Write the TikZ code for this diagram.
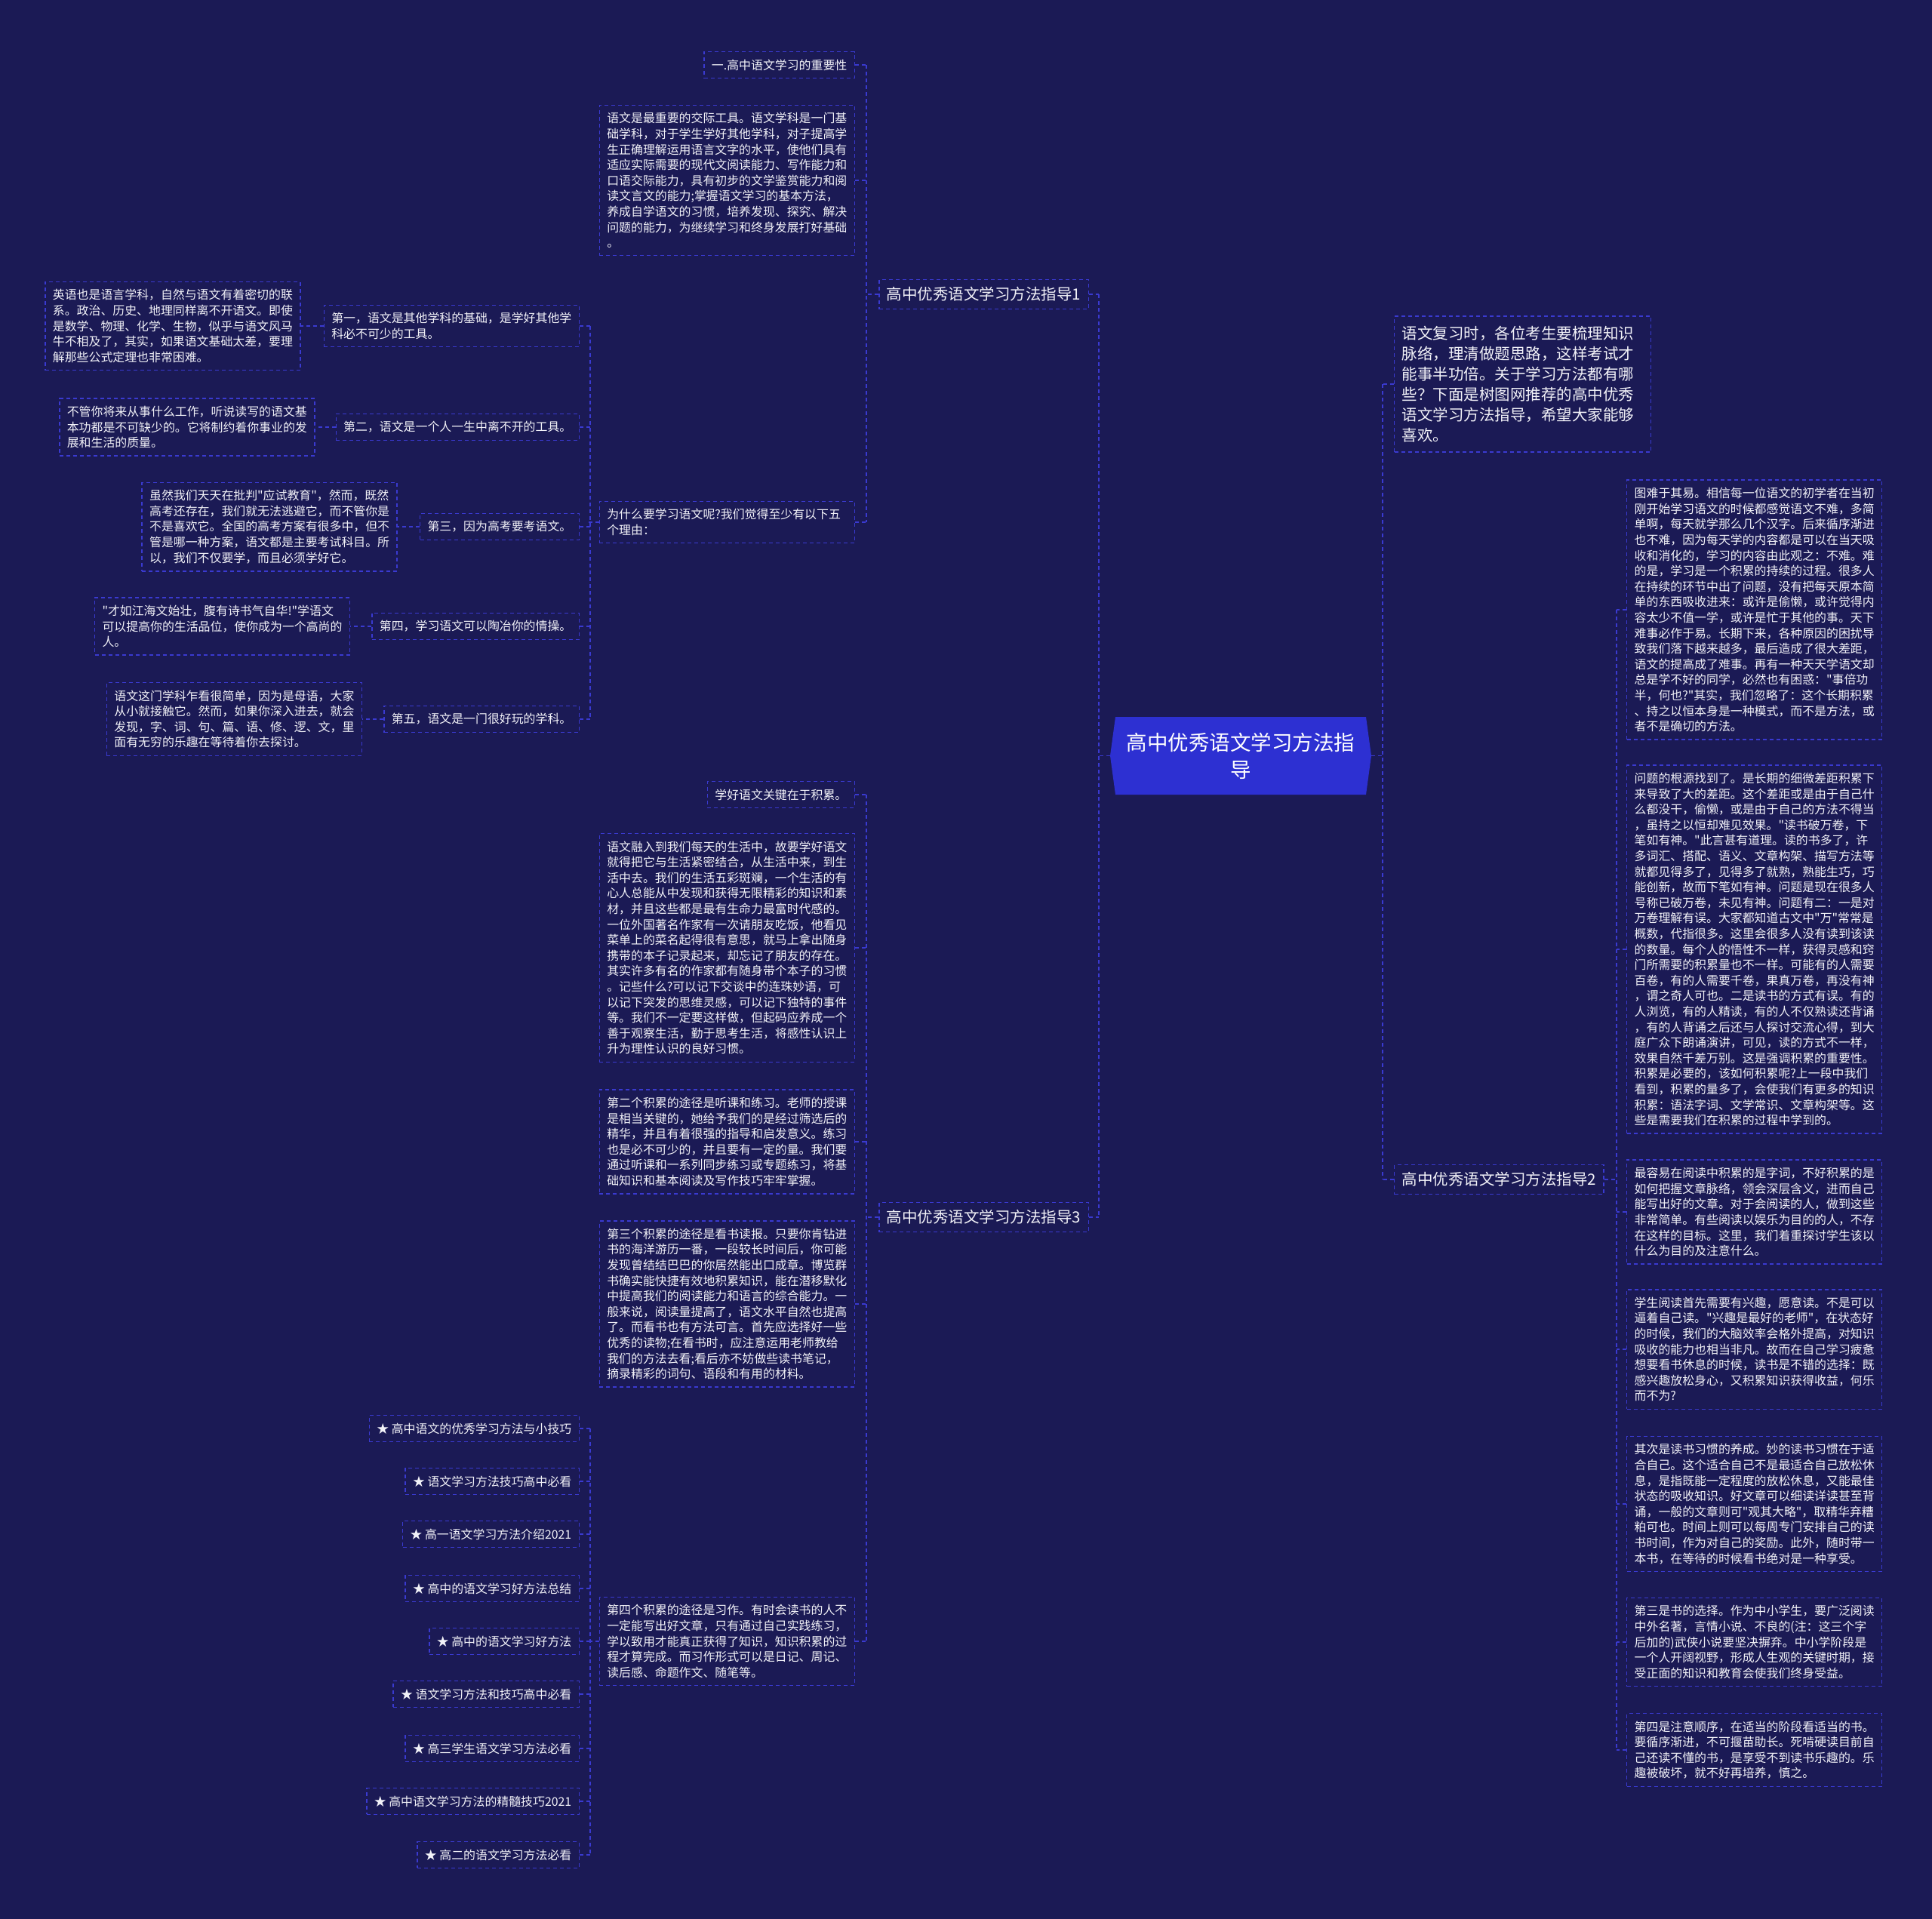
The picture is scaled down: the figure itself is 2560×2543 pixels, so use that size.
\documentclass[tikz,border=0pt]{standalone}
\usepackage{fontspec}
\newfontfamily\cjk{Noto Sans CJK SC}
\definecolor{bgc}{HTML}{1B1A55}
\definecolor{linec}{HTML}{3A3AD0}
\definecolor{txtc}{HTML}{F2F2F8}
\definecolor{ctrc}{HTML}{2D30D2}
\begin{document}
\begin{tikzpicture}[x=1pt,y=-1pt,
  conn/.style={draw=linec, line width=1.4pt, dash pattern=on 5pt off 4pt},
  box/.style={draw=linec, line width=1.4pt, dash pattern=on 5pt off 4pt, text=txtc, inner xsep=10pt, inner ysep=10pt},
  sbox/.style={box, font=\cjk\fontsize{15.9}{20.6}\selectfont, align=left},
  para/.style={sbox, text width=318pt},
  lbl/.style={box, font=\cjk\fontsize{20.5}{27}\selectfont}]
\fill[bgc] (0,0) rectangle (2560,2543);
\useasboundingbox (0,0) rectangle (2560,2543);
% center
\fill[ctrc] (1478,950) -- (1810,950) -- (1817,1001.5) -- (1810,1053) -- (1478,1053) -- (1471,1001.5) -- cycle;
\node[minimum width=346pt, minimum height=103pt, inner sep=0pt, align=center, text=white,
  font=\cjk\fontsize{27.5}{36}\selectfont] (ctr) at (1644,1001.5) {高中优秀语文学习方法指\\导};
% branches
\node[lbl, anchor=east] (b1) at (1443,390) {高中优秀语文学习方法指导1};
\node[lbl, anchor=east] (b3) at (1443,1613) {高中优秀语文学习方法指导3};
\node[lbl, anchor=west] (b2) at (1847,1563) {高中优秀语文学习方法指导2};
\node[box, anchor=west, text width=320pt, inner ysep=13pt, align=left,
  font=\cjk\fontsize{20.5}{27}\selectfont] (intro) at (1847,509) {语文复习时，各位考生要梳理知识\\脉络，理清做题思路，这样考试才\\能事半功倍。关于学习方法都有哪\\些？下面是树图网推荐的高中优秀\\语文学习方法指导，希望大家能够\\喜欢。};
% branch 1 children
\node[sbox, anchor=east] (n1) at (1133,86) {一.高中语文学习的重要性};
\node[para, anchor=east] (n2) at (1133,239) {语文是最重要的交际工具。语文学科是一门基\\础学科，对于学生学好其他学科，对子提高学\\生正确理解运用语言文字的水平，使他们具有\\适应实际需要的现代文阅读能力、写作能力和\\口语交际能力，具有初步的文学鉴赏能力和阅\\读文言文的能力;掌握语文学习的基本方法，\\养成自学语文的习惯，培养发现、探究、解决\\问题的能力，为继续学习和终身发展打好基础\\。};
\node[para, anchor=east] (n9) at (1133,692) {为什么要学习语文呢?我们觉得至少有以下五\\个理由：};
% reasons
\node[para, anchor=east] (r1) at (768,432) {第一，语文是其他学科的基础，是学好其他学\\科必不可少的工具。};
\node[sbox, anchor=east] (r2) at (768,566) {第二，语文是一个人一生中离不开的工具。};
\node[sbox, anchor=east] (r3) at (768,698) {第三，因为高考要考语文。};
\node[sbox, anchor=east] (r4) at (768,830) {第四，学习语文可以陶冶你的情操。};
\node[sbox, anchor=east] (r5) at (768,953) {第五，语文是一门很好玩的学科。};
\node[para, anchor=east] (e1) at ([xshift=-30pt]r1.west) {英语也是语言学科，自然与语文有着密切的联\\系。政治、历史、地理同样离不开语文。即使\\是数学、物理、化学、生物，似乎与语文风马\\牛不相及了，其实，如果语文基础太差，要理\\解那些公式定理也非常困难。};
\node[para, anchor=east] (e2) at ([xshift=-27pt]r2.west) {不管你将来从事什么工作，听说读写的语文基\\本功都是不可缺少的。它将制约着你事业的发\\展和生活的质量。};
\node[para, anchor=east] (e3) at ([xshift=-29pt]r3.west) {虽然我们天天在批判"应试教育"，然而，既然\\高考还存在，我们就无法逃避它，而不管你是\\不是喜欢它。全国的高考方案有很多中，但不\\管是哪一种方案，语文都是主要考试科目。所\\以，我们不仅要学，而且必须学好它。};
\node[para, anchor=east] (e4) at ([xshift=-28pt]r4.west) {"才如江海文始壮，腹有诗书气自华!"学语文\\可以提高你的生活品位，使你成为一个高尚的\\人。};
\node[para, anchor=east] (e5) at ([xshift=-28pt]r5.west) {语文这门学科乍看很简单，因为是母语，大家\\从小就接触它。然而，如果你深入进去，就会\\发现，字、词、句、篇、语、修、逻、文，里\\面有无穷的乐趣在等待着你去探讨。};
% branch 3 children
\node[sbox, anchor=east] (n14) at (1133,1053) {学好语文关键在于积累。};
\node[para, anchor=east] (n15) at (1133,1256) {语文融入到我们每天的生活中，故要学好语文\\就得把它与生活紧密结合，从生活中来，到生\\活中去。我们的生活五彩斑斓，一个生活的有\\心人总能从中发现和获得无限精彩的知识和素\\材，并且这些都是最有生命力最富时代感的。\\一位外国著名作家有一次请朋友吃饭，他看见\\菜单上的菜名起得很有意思，就马上拿出随身\\携带的本子记录起来，却忘记了朋友的存在。\\其实许多有名的作家都有随身带个本子的习惯\\。记些什么?可以记下交谈中的连珠妙语，可\\以记下突发的思维灵感，可以记下独特的事件\\等。我们不一定要这样做，但起码应养成一个\\善于观察生活，勤于思考生活，将感性认识上\\升为理性认识的良好习惯。};
\node[para, anchor=east] (n16) at (1133,1513) {第二个积累的途径是听课和练习。老师的授课\\是相当关键的，她给予我们的是经过筛选后的\\精华，并且有着很强的指导和启发意义。练习\\也是必不可少的，并且要有一定的量。我们要\\通过听课和一系列同步练习或专题练习，将基\\础知识和基本阅读及写作技巧牢牢掌握。};
\node[para, anchor=east] (n17) at (1133,1728) {第三个积累的途径是看书读报。只要你肯钻进\\书的海洋游历一番，一段较长时间后，你可能\\发现曾结结巴巴的你居然能出口成章。博览群\\书确实能快捷有效地积累知识，能在潜移默化\\中提高我们的阅读能力和语言的综合能力。一\\般来说，阅读量提高了，语文水平自然也提高\\了。而看书也有方法可言。首先应选择好一些\\优秀的读物;在看书时，应注意运用老师教给\\我们的方法去看;看后亦不妨做些读书笔记，\\摘录精彩的词句、语段和有用的材料。};
\node[para, anchor=east] (n18) at (1133,2175) {第四个积累的途径是习作。有时会读书的人不\\一定能写出好文章，只有通过自己实践练习，\\学以致用才能真正获得了知识，知识积累的过\\程才算完成。而习作形式可以是日记、周记、\\读后感、命题作文、随笔等。};
% stars
\node[sbox, anchor=east] (s1) at (768,1893) {★ 高中语文的优秀学习方法与小技巧};
\node[sbox, anchor=east] (s2) at (768,1963) {★ 语文学习方法技巧高中必看};
\node[sbox, anchor=east] (s3) at (768,2033) {★ 高一语文学习方法介绍2021};
\node[sbox, anchor=east] (s4) at (768,2105) {★ 高中的语文学习好方法总结};
\node[sbox, anchor=east] (s5) at (768,2175) {★ 高中的语文学习好方法};
\node[sbox, anchor=east] (s6) at (768,2245) {★ 语文学习方法和技巧高中必看};
\node[sbox, anchor=east] (s7) at (768,2317) {★ 高三学生语文学习方法必看};
\node[sbox, anchor=east] (s8) at (768,2387) {★ 高中语文学习方法的精髓技巧2021};
\node[sbox, anchor=east] (s9) at (768,2458) {★ 高二的语文学习方法必看};
% branch 2 children
\node[para, anchor=west] (c1) at (2155,808) {图难于其易。相信每一位语文的初学者在当初\\刚开始学习语文的时候都感觉语文不难，多简\\单啊，每天就学那么几个汉字。后来循序渐进\\也不难，因为每天学的内容都是可以在当天吸\\收和消化的，学习的内容由此观之：不难。难\\的是，学习是一个积累的持续的过程。很多人\\在持续的环节中出了问题，没有把每天原本简\\单的东西吸收进来：或许是偷懒，或许觉得内\\容太少不值一学，或许是忙于其他的事。天下\\难事必作于易。长期下来，各种原因的困扰导\\致我们落下越来越多，最后造成了很大差距，\\语文的提高成了难事。再有一种天天学语文却\\总是学不好的同学，必然也有困惑："事倍功\\半，何也?"其实，我们忽略了：这个长期积累\\、持之以恒本身是一种模式，而不是方法，或\\者不是确切的方法。};
\node[para, anchor=west] (c2) at (2155,1258) {问题的根源找到了。是长期的细微差距积累下\\来导致了大的差距。这个差距或是由于自己什\\么都没干，偷懒，或是由于自己的方法不得当\\，虽持之以恒却难见效果。"读书破万卷，下\\笔如有神。"此言甚有道理。读的书多了，许\\多词汇、搭配、语义、文章构架、描写方法等\\就都见得多了，见得多了就熟，熟能生巧，巧\\能创新，故而下笔如有神。问题是现在很多人\\号称已破万卷，未见有神。问题有二：一是对\\万卷理解有误。大家都知道古文中"万"常常是\\概数，代指很多。这里会很多人没有读到该读\\的数量。每个人的悟性不一样，获得灵感和窍\\门所需要的积累量也不一样。可能有的人需要\\百卷，有的人需要千卷，果真万卷，再没有神\\，谓之奇人可也。二是读书的方式有误。有的\\人浏览，有的人精读，有的人不仅熟读还背诵\\，有的人背诵之后还与人探讨交流心得，到大\\庭广众下朗诵演讲，可见，读的方式不一样，\\效果自然千差万别。这是强调积累的重要性。\\积累是必要的，该如何积累呢?上一段中我们\\看到，积累的量多了，会使我们有更多的知识\\积累：语法字词、文学常识、文章构架等。这\\些是需要我们在积累的过程中学到的。};
\node[para, anchor=west] (c3) at (2155,1606) {最容易在阅读中积累的是字词，不好积累的是\\如何把握文章脉络，领会深层含义，进而自己\\能写出好的文章。对于会阅读的人，做到这些\\非常简单。有些阅读以娱乐为目的的人，不存\\在这样的目标。这里，我们着重探讨学生该以\\什么为目的及注意什么。};
\node[para, anchor=west] (c4) at (2155,1788) {学生阅读首先需要有兴趣，愿意读。不是可以\\逼着自己读。"兴趣是最好的老师"，在状态好\\的时候，我们的大脑效率会格外提高，对知识\\吸收的能力也相当非凡。故而在自己学习疲惫\\想要看书休息的时候，读书是不错的选择：既\\感兴趣放松身心，又积累知识获得收益，何乐\\而不为?};
\node[para, anchor=west] (c5) at (2155,1993) {其次是读书习惯的养成。妙的读书习惯在于适\\合自己。这个适合自己不是最适合自己放松休\\息，是指既能一定程度的放松休息，又能最佳\\状态的吸收知识。好文章可以细读详读甚至背\\诵，一般的文章则可"观其大略"，取精华弃糟\\粕可也。时间上则可以每周专门安排自己的读\\书时间，作为对自己的奖励。此外，随时带一\\本书，在等待的时候看书绝对是一种享受。};
\node[para, anchor=west] (c6) at (2155,2176) {第三是书的选择。作为中小学生，要广泛阅读\\中外名著，言情小说、不良的(注：这三个字\\后加的)武侠小说要坚决摒弃。中小学阶段是\\一个人开阔视野，形成人生观的关键时期，接\\受正面的知识和教育会使我们终身受益。};
\node[para, anchor=west] (c7) at (2155,2319) {第四是注意顺序，在适当的阶段看适当的书。\\要循序渐进，不可揠苗助长。死啃硬读目前自\\己还读不懂的书，是享受不到读书乐趣的。乐\\趣被破坏，就不好再培养，慎之。};
% ---- connectors ----
\draw[conn] (ctr.west) -- ++(-15,0);
\draw[conn] ([xshift=13pt]b1.east) -- ([xshift=13pt]b3.east);
\draw[conn] (b1.east) -- ++(13,0);
\draw[conn] (b3.east) -- ++(13,0);
\draw[conn] (ctr.east) -- ++(15,0);
\draw[conn] ([xshift=-15pt]intro.west) -- ([xshift=-15pt]b2.west);
\draw[conn] (intro.west) -- ++(-15,0);
\draw[conn] (b2.west) -- ++(-15,0);
% branch 1
\draw[conn] (b1.west) -- ++(-15,0);
\draw[conn] ([xshift=15pt]n1.east) -- ([xshift=15pt]n9.east);
\foreach \n in {n1,n2,n9} \draw[conn] (\n.east) -- ++(15,0);
% reasons
\draw[conn] (n9.west) -- ++(-15,0);
\draw[conn] ([xshift=14pt]r1.east) -- ([xshift=14pt]r5.east);
\foreach \n in {r1,r2,r3,r4,r5} \draw[conn] (\n.east) -- ++(14,0);
\draw[conn] (r1.west) -- (e1.east);
\draw[conn] (r2.west) -- (e2.east);
\draw[conn] (r3.west) -- (e3.east);
\draw[conn] (r4.west) -- (e4.east);
\draw[conn] (r5.west) -- (e5.east);
% branch 3
\draw[conn] (b3.west) -- ++(-15,0);
\draw[conn] ([xshift=15pt]n14.east) -- ([xshift=15pt]n18.east);
\foreach \n in {n14,n15,n16,n17,n18} \draw[conn] (\n.east) -- ++(15,0);
% stars
\draw[conn] (n18.west) -- ++(-15,0);
\draw[conn] ([xshift=14pt]s1.east) -- ([xshift=14pt]s9.east);
\foreach \n in {s1,s2,s3,s4,s5,s6,s7,s8,s9} \draw[conn] (\n.east) -- ++(14,0);
% branch 2
\draw[conn] (b2.east) -- ++(16,0);
\draw[conn] ([xshift=-13pt]c1.west) -- ([xshift=-13pt]c7.west);
\foreach \n in {c1,c2,c3,c4,c5,c6,c7} \draw[conn] (\n.west) -- ++(-13,0);
\end{tikzpicture}
\end{document}
